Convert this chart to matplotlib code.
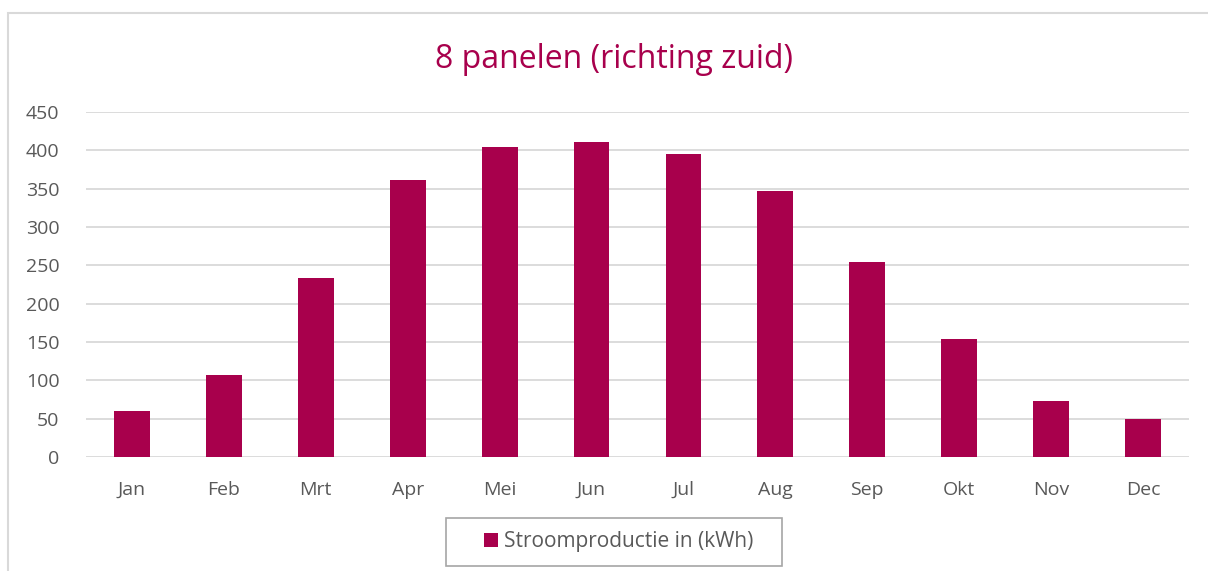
import matplotlib
matplotlib.use("Agg")
import matplotlib.pyplot as plt
from matplotlib.patches import Rectangle

# Data
maanden = ['Jan', 'Feb', 'Mrt', 'Apr', 'Mei', 'Jun', 'Jul', 'Aug', 'Sep', 'Okt', 'Nov', 'Dec']
productie = [60, 107, 234, 361, 404, 411, 395, 347, 254, 154, 73, 49]
yticks = [0, 50, 100, 150, 200, 250, 300, 350, 400, 450]

kleur = '#A8004C'
tekst = '#595959'

plt.rcParams['font.family'] = ['Open Sans', 'DejaVu Sans']

W, H = 1208, 571
fig = plt.figure(figsize=(W / 100, H / 100), dpi=100)
ax = fig.add_axes([86 / W, 114 / H, 1103 / W, 345 / H])

# outer chart border
fig.patches.append(Rectangle((8 / W, -0.1), 1.2, (H - 13) / H + 0.1,
                             transform=fig.transFigure, fill=False,
                             edgecolor='#D9D9D9', linewidth=1.5))

x = range(len(maanden))
ax.bar(x, productie, width=0.39, color=kleur, label='Stroomproductie in (kWh)', zorder=3)

ax.set_xlim(-0.5, len(maanden) - 0.5)
ax.set_ylim(0, 450)
ax.set_yticks(yticks)
ax.set_xticks(list(x))
ax.set_xticklabels(maanden)
ax.tick_params(axis='both', length=0, labelsize=14, colors=tekst)
ax.tick_params(axis='x', pad=17)
ax.tick_params(axis='y', pad=19)
ax.grid(axis='y', color='#D9D9D9', linewidth=1.3, zorder=0)
for s in ax.spines.values():
    s.set_visible(False)

fig.text(614 / W, 1 - 59 / H, '8 panelen (richting zuid)', ha='center', va='center',
         fontsize=23, color=kleur)

# legend box
fig.patches.append(Rectangle((446 / W, 1 - 566 / H), 336 / W, 48 / H,
                             transform=fig.transFigure, fill=False,
                             edgecolor='#A6A6A6', linewidth=1.2))
ax.legend(loc='center', bbox_to_anchor=(619 / W, 1 - 542 / H),
          bbox_transform=fig.transFigure, fontsize=15, frameon=False,
          handlelength=0.65, handleheight=0.65, handletextpad=0.3,
          borderpad=0, labelcolor=tekst)

fig.savefig('out.png', dpi=100)
